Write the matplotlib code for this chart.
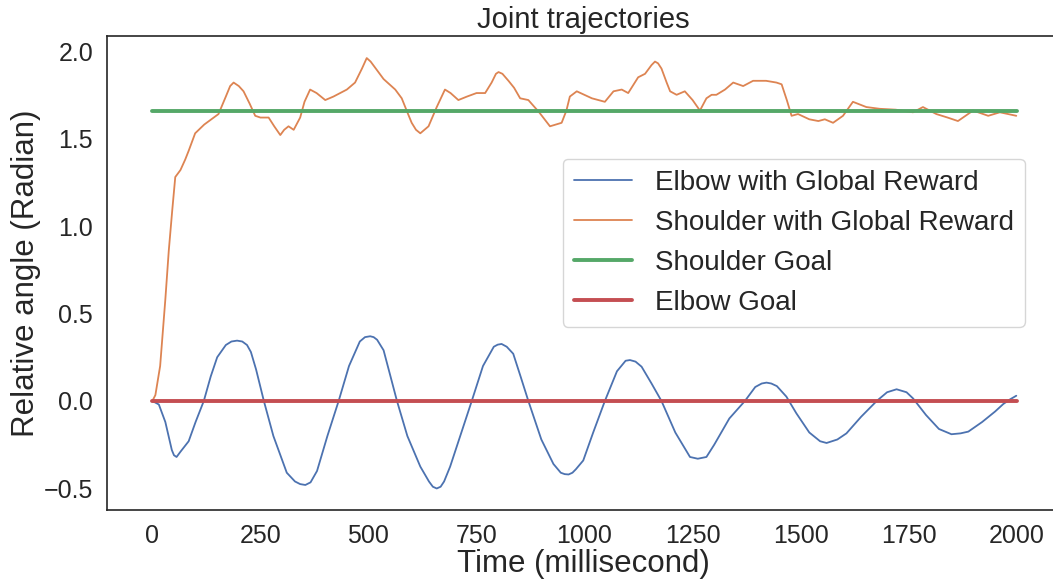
import numpy as np
import matplotlib
matplotlib.use("Agg")
import matplotlib.pyplot as plt
import seaborn as sns

# %%
# elbow joint (time in ms, angle in rad)
elbow_t = [0, 15, 30, 45, 50, 56, 65, 84, 100, 119, 135, 150, 170, 183, 196, 208, 219,
           228, 240, 258, 280, 311, 330, 342, 354, 366, 381, 405, 431, 455, 480, 492,
           504, 512, 520, 535, 550, 566, 590, 620, 640, 649, 658, 667, 675, 689, 715,
           739, 765, 790, 799, 808, 820, 835, 852, 870, 900, 928, 945, 954, 963, 972,
           980, 997, 1020, 1047, 1075, 1095, 1105, 1118, 1132, 1155, 1178, 1210, 1244,
           1262, 1282, 1300, 1335, 1371, 1395, 1410, 1421, 1432, 1445, 1467, 1490,
           1520, 1545, 1560, 1585, 1606, 1640, 1676, 1700, 1722, 1745, 1760, 1790,
           1820, 1849, 1870, 1888, 1920, 1950, 1969, 1985, 1999]
elbow = [0.0, -0.02, -0.12, -0.28, -0.31, -0.32, -0.29, -0.23, -0.12, 0.0, 0.14, 0.25,
         0.32, 0.34, 0.345, 0.34, 0.32, 0.28, 0.18, 0.0, -0.2, -0.41, -0.46, -0.475,
         -0.48, -0.465, -0.40, -0.2, 0.0, 0.2, 0.34, 0.365, 0.37, 0.365, 0.35, 0.29,
         0.15, 0.0, -0.2, -0.375, -0.46, -0.49, -0.50, -0.49, -0.46, -0.375, -0.18,
         0.0, 0.2, 0.31, 0.322, 0.326, 0.31, 0.27, 0.14, 0.0, -0.22, -0.36, -0.41,
         -0.418, -0.42, -0.41, -0.39, -0.34, -0.18, 0.0, 0.17, 0.23, 0.234, 0.225,
         0.196, 0.1, 0.0, -0.18, -0.32, -0.33, -0.32, -0.25, -0.1, 0.0, 0.08, 0.1,
         0.105, 0.1, 0.085, 0.025, -0.07, -0.18, -0.23, -0.24, -0.22, -0.185, -0.09,
         0.0, 0.05, 0.067, 0.05, 0.015, -0.08, -0.16, -0.19, -0.185, -0.175, -0.12,
         -0.06, -0.017, 0.01, 0.03]

# shoulder joint
shoulder_t = [0, 7, 18, 30, 38, 46, 53, 65, 76, 84, 99, 120, 142, 153, 170, 180, 188,
              200, 211, 225, 238, 250, 269, 282, 296, 305, 315, 327, 342, 352, 365,
              380, 400, 419, 450, 469, 485, 496, 505, 520, 535, 562, 577, 590, 600,
              610, 620, 639, 658, 677, 690, 708, 728, 750, 770, 785, 795, 801, 810,
              824, 837, 851, 870, 895, 920, 947, 958, 966, 982, 1017, 1047, 1067,
              1086, 1101, 1124, 1140, 1155, 1163, 1170, 1178, 1190, 1198, 1213, 1232,
              1250, 1267, 1282, 1294, 1305, 1325, 1344, 1367, 1390, 1420, 1444, 1456,
              1468, 1479, 1494, 1520, 1541, 1556, 1575, 1598, 1621, 1652, 1683, 1720,
              1760, 1783, 1814, 1840, 1864, 1899, 1934, 1961, 1999]
shoulder = [0.0, 0.034, 0.2, 0.58, 0.86, 1.09, 1.28, 1.32, 1.38, 1.43, 1.53, 1.58,
            1.62, 1.64, 1.74, 1.80, 1.82, 1.80, 1.77, 1.70, 1.63, 1.62, 1.62, 1.57,
            1.52, 1.55, 1.57, 1.55, 1.62, 1.71, 1.78, 1.76, 1.72, 1.74, 1.78, 1.82,
            1.90, 1.96, 1.94, 1.89, 1.84, 1.78, 1.73, 1.65, 1.59, 1.55, 1.53, 1.57,
            1.68, 1.78, 1.76, 1.72, 1.74, 1.76, 1.76, 1.82, 1.87, 1.88, 1.87, 1.83,
            1.79, 1.73, 1.72, 1.65, 1.57, 1.59, 1.66, 1.74, 1.77, 1.73, 1.71, 1.77,
            1.78, 1.76, 1.85, 1.87, 1.92, 1.94, 1.93, 1.90, 1.82, 1.77, 1.75, 1.77,
            1.72, 1.66, 1.73, 1.75, 1.75, 1.78, 1.82, 1.80, 1.83, 1.83, 1.82, 1.81,
            1.72, 1.63, 1.64, 1.61, 1.60, 1.61, 1.59, 1.63, 1.71, 1.68, 1.67, 1.665,
            1.65, 1.68, 1.64, 1.62, 1.60, 1.66, 1.63, 1.65, 1.63]

goal_t = [0, 2000]
shoulder_goal = [1.66, 1.66]
elbow_goal = [0.0, 0.0]

# %%
sns.set_theme(style='white')
plt.rcParams['font.family'] = ['Liberation Sans', 'DejaVu Sans']
pal = sns.color_palette('deep')

fig = plt.figure(figsize=(10.53, 5.8), dpi=100)
ax = fig.add_axes([0.1016, 0.1207, 0.905, 0.8172])

ax.plot(elbow_t, elbow, color=pal[0], lw=1.3, label='Elbow with Global Reward')
ax.plot(shoulder_t, shoulder, color=pal[1], lw=1.3, label='Shoulder with Global Reward')
ax.plot(goal_t, shoulder_goal, color=pal[2], lw=2.8, label='Shoulder Goal')
ax.plot(goal_t, elbow_goal, color=pal[3], lw=2.8, label='Elbow Goal')

ax.set_xlim(-105, 2100)
ax.set_ylim(-0.623, 2.086)
ax.set_xticks([0, 250, 500, 750, 1000, 1250, 1500, 1750, 2000])
ax.set_yticks([-0.5, 0.0, 0.5, 1.0, 1.5, 2.0])
ax.tick_params(axis='x', labelsize=18, pad=4)
ax.tick_params(axis='y', labelsize=18, pad=4)
for s in ax.spines.values():
    s.set_linewidth(1.2)

ax.set_title('Joint trajectories', fontsize=21)
ax.set_xlabel('Time (millisecond)', fontsize=22.5, labelpad=1)
ax.set_ylabel('Relative angle (Radian)', fontsize=22.5, labelpad=2)

ax.legend(loc='center right', bbox_to_anchor=(0.963, 0.564), borderaxespad=0,
          fontsize=20, handlelength=2.1)

fig.savefig('out.png', dpi=100)
